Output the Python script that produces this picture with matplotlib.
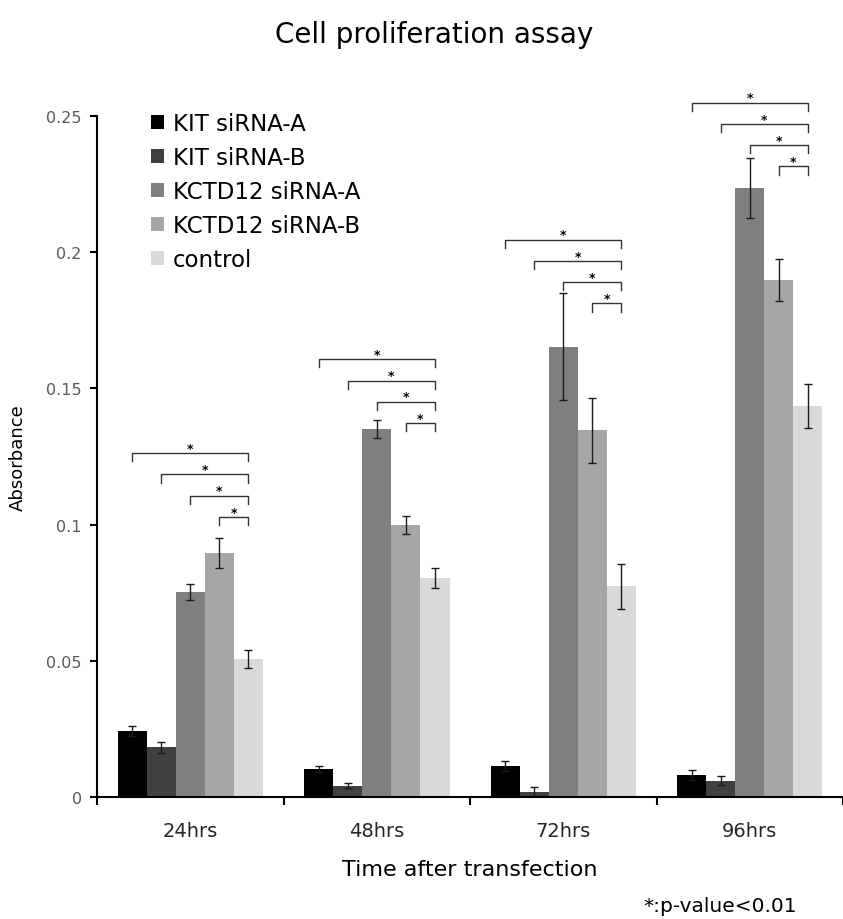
import numpy as np
import matplotlib
matplotlib.use('Agg')
import matplotlib.pyplot as plt
from matplotlib.ticker import FixedLocator, FuncFormatter

# Data
timepoints = ['24hrs', '48hrs', '72hrs', '96hrs']
groups = ['KIT siRNA-A', 'KIT siRNA-B', 'KCTD12 siRNA-A', 'KCTD12 siRNA-B', 'control']
colors = ['#000000', '#404040', '#7f7f7f', '#a6a6a6', '#d9d9d9']

kit_a = [0.0242, 0.0103, 0.0113, 0.0081]
kit_b = [0.0182, 0.0042, 0.0020, 0.0060]
kctd_a = [0.0753, 0.1350, 0.1653, 0.2237]
kctd_b = [0.0896, 0.0997, 0.1346, 0.1899]
control = [0.0507, 0.0805, 0.0774, 0.1436]

kit_a_err = [0.0018, 0.0012, 0.0018, 0.0017]
kit_b_err = [0.0020, 0.0010, 0.0015, 0.0017]
kctd_a_err = [0.0030, 0.0033, 0.0197, 0.0110]
kctd_b_err = [0.0055, 0.0033, 0.0120, 0.0077]
control_err = [0.0033, 0.0037, 0.0083, 0.0080]

# lowest significance bracket per timepoint, brackets stacked above it
bracket_base = [0.1028, 0.1373, 0.1812, 0.2315]
bracket_step = 0.0078

values = [kit_a, kit_b, kctd_a, kctd_b, control]
errors = [kit_a_err, kit_b_err, kctd_a_err, kctd_b_err, control_err]

fig = plt.figure(figsize=(8.43, 9.2), dpi=100)
ax = fig.add_axes([0.1151, 0.1326, 0.8849, 0.7402])

x = np.arange(len(timepoints))
width = 0.156
offsets = (np.arange(len(groups)) - 2) * width

for i, (name, vals, errs, col) in enumerate(zip(groups, values, errors, colors)):
    ax.bar(x + offsets[i], vals, width, color=col, label=name, linewidth=0,
           yerr=errs, error_kw=dict(ecolor='#1a1a1a', elinewidth=1.0,
                                     capsize=3, capthick=1.0))

# significance brackets: each siRNA vs control
for t in range(len(timepoints)):
    x_ctrl = x[t] + offsets[4]
    for k in range(4):
        level = 3 - k
        yb = bracket_base[t] + level * bracket_step
        x_left = x[t] + offsets[k]
        ax.plot([x_left, x_left, x_ctrl, x_ctrl],
                [yb - 0.003, yb, yb, yb - 0.003],
                color='#333333', lw=1.0, clip_on=False)
        ax.text((x_left + x_ctrl) / 2, yb + 0.0018, '*', ha='center',
                va='center', fontsize=9, fontweight='bold', clip_on=False)

ax.set_xlim(-0.5, 3.5)
ax.set_ylim(0, 0.25)

ax.spines['top'].set_visible(False)
ax.spines['right'].set_visible(False)
ax.spines['left'].set_linewidth(1.5)
ax.spines['bottom'].set_linewidth(1.5)

ax.set_yticks([0, 0.05, 0.1, 0.15, 0.2, 0.25])
ax.yaxis.set_major_formatter(FuncFormatter(lambda v, p: '%g' % v))
ax.tick_params(axis='y', direction='out', length=5, width=1.5,
               labelsize=11.5, labelcolor='#595959', pad=6)

ax.set_xticks(x)
ax.set_xticklabels(timepoints)
ax.xaxis.set_minor_locator(FixedLocator([-0.5, 0.5, 1.5, 2.5, 3.5]))
ax.tick_params(axis='x', which='major', length=0, labelsize=14,
               labelcolor='#262626', pad=17)
ax.tick_params(axis='x', which='minor', direction='out', length=6, width=1.5)

ax.set_ylabel('Absorbance', fontsize=13, labelpad=14)
ax.set_xlabel('Time after transfection', fontsize=16, labelpad=14)

fig.text(0.515, 0.962, 'Cell proliferation assay', ha='center', va='center',
         fontsize=20)
fig.text(0.763, 1 - 907 / 920, '*:p-value<0.01', ha='left', va='center',
         fontsize=14.5)

ax.legend(loc='upper left', bbox_to_anchor=(151 / 843, 1 - 113 / 920),
          bbox_transform=fig.transFigure, frameon=False, fontsize=16.5,
          handlelength=0.55, handleheight=0.55, handletextpad=0.4,
          labelspacing=0.48, borderpad=0, borderaxespad=0)

fig.savefig('out.png', dpi=100)
